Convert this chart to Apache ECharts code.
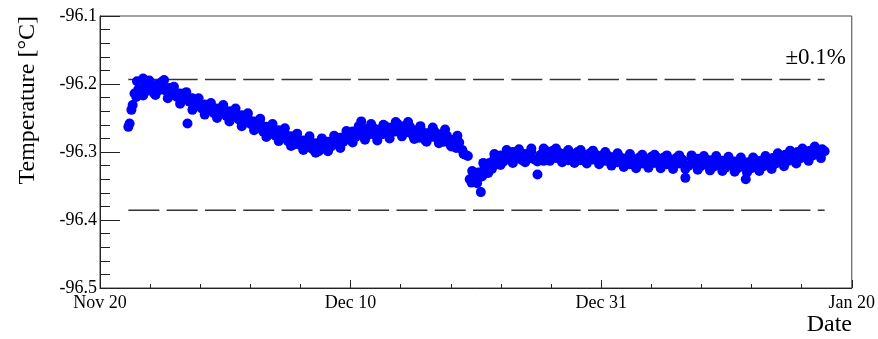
<!DOCTYPE html>
<html>
<head>
<meta charset="utf-8">
<title>Temperature vs Date</title>
<script src="https://cdn.jsdelivr.net/npm/echarts@6.0.0/dist/echarts.min.js"></script>
<style>
  html, body { margin: 0; padding: 0; background: #fff; }
  #chart { width: 878px; height: 339px; }
</style>
</head>
<body>
<div id="chart"></div>
<script>
// days since Nov 20
const days = [
  2.30, 2.40, 2.55, 2.65, 2.80, 2.95, 3.10, 3.30, 3.50, 3.65, 3.85, 4.00, 4.20, 4.40, 4.60, 4.80,
  5.00, 5.20, 5.40, 5.60, 5.80, 6.00, 6.25, 6.50, 6.75, 7.00, 7.10, 7.25, 7.50, 7.75, 8.00, 8.25,
  8.50, 8.75, 9.00, 9.25, 9.50, 9.75, 10.00, 10.25, 10.50, 10.75, 11.00, 11.25, 11.50, 11.75, 12.00, 12.25,
  12.50, 12.75, 13.00, 13.25, 13.50, 13.75, 14.00, 14.25, 14.50, 14.75, 15.00, 15.25, 15.50, 15.75, 16.00, 16.25,
  16.50, 16.75, 17.00, 17.25, 17.50, 17.75, 18.00, 18.25, 18.50, 18.75, 19.00, 19.25, 19.50, 19.75, 20.00, 20.25,
  20.50, 20.75, 21.00, 21.20, 21.40, 21.65, 21.90, 22.15, 22.40, 22.65, 22.90, 23.15, 23.40, 23.65, 23.90, 24.15,
  24.40, 24.65, 24.90, 25.15, 25.40, 25.65, 25.90, 26.15, 26.40, 26.65, 26.90, 27.15, 27.40, 27.65, 27.90, 28.15,
  28.40, 28.65, 28.90, 29.15, 29.40, 29.65, 29.85, 30.00, 30.15, 30.35, 30.50, 30.70, 30.90, 31.00, 31.20, 31.40,
  31.60, 31.80, 32.00, 32.25, 32.50, 32.75, 33.00, 33.25, 33.50, 33.75, 34.00, 34.25, 34.50, 34.75, 35.00, 35.25,
  35.50, 35.75, 36.00, 36.25, 36.50, 36.75, 37.00, 37.25, 37.50, 37.75, 38.00, 38.25, 38.50, 38.75, 39.00, 39.25,
  39.50, 39.75, 40.00, 40.25, 40.50, 40.75, 41.00, 41.25, 41.50, 41.75, 42.00, 42.25, 42.50, 42.75, 43.00, 43.25,
  43.50, 43.75, 44.00, 44.25, 44.50, 44.75, 45.00, 45.25, 45.50, 45.75, 46.00, 46.25, 46.50, 46.75, 47.00, 47.25,
  47.50, 47.75, 48.00, 48.25, 48.50, 48.75, 49.00, 49.25, 49.50, 49.75, 50.00, 50.25, 50.50, 50.75, 51.00, 51.25,
  51.50, 51.75, 52.00, 52.25, 52.40, 52.60, 52.85, 53.10, 53.35, 53.60, 53.85, 54.10, 54.35, 54.60, 54.85, 55.10,
  55.35, 55.60, 55.85, 56.10, 56.35, 56.60, 56.85, 57.10, 57.35, 57.60, 57.85, 58.10, 58.35, 58.60, 58.80
];
const temps = [
  -96.263, -96.258, -96.238, -96.231, -96.214, -96.219, -96.208, -96.212, -96.192, -96.203, -96.210, -96.198, -96.207, -96.214, -96.201, -96.209,
  -96.204, -96.194, -96.211, -96.206, -96.216, -96.210, -96.219, -96.214, -96.222, -96.218, -96.258, -96.226, -96.221, -96.230, -96.228, -96.236,
  -96.230, -96.239, -96.235, -96.243, -96.236, -96.244, -96.238, -96.247, -96.240, -96.249, -96.244, -96.252, -96.246, -96.257, -96.250, -96.259,
  -96.255, -96.265, -96.258, -96.270, -96.263, -96.274, -96.266, -96.276, -96.268, -96.279, -96.273, -96.284, -96.277, -96.289, -96.281, -96.290,
  -96.283, -96.293, -96.285, -96.296, -96.287, -96.299, -96.291, -96.295, -96.285, -96.292, -96.282, -96.288, -96.279, -96.285, -96.274, -96.281,
  -96.270, -96.278, -96.268, -96.255, -96.276, -96.266, -96.274, -96.264, -96.276, -96.267, -96.274, -96.262, -96.272, -96.264, -96.270, -96.259,
  -96.268, -96.262, -96.271, -96.263, -96.276, -96.268, -96.279, -96.270, -96.283, -96.272, -96.278, -96.270, -96.281, -96.274, -96.285, -96.276,
  -96.288, -96.282, -96.294, -96.286, -96.297, -96.304, -96.306, -96.340, -96.345, -96.335, -96.342, -96.330, -96.359, -96.336, -96.322, -96.330,
  -96.316, -96.325, -96.310, -96.318, -96.305, -96.314, -96.302, -96.311, -96.300, -96.309, -96.301, -96.312, -96.303, -96.310, -96.300, -96.311,
  -96.333, -96.304, -96.313, -96.299, -96.308, -96.298, -96.309, -96.301, -96.311, -96.302, -96.312, -96.303, -96.310, -96.300, -96.312, -96.304,
  -96.313, -96.302, -96.311, -96.304, -96.314, -96.305, -96.313, -96.306, -96.316, -96.307, -96.315, -96.308, -96.319, -96.309, -96.318, -96.310,
  -96.321, -96.308, -96.317, -96.310, -96.320, -96.307, -96.316, -96.309, -96.319, -96.308, -96.318, -96.311, -96.320, -96.309, -96.317, -96.311,
  -96.338, -96.320, -96.309, -96.318, -96.310, -96.321, -96.311, -96.319, -96.312, -96.322, -96.311, -96.320, -96.313, -96.323, -96.312, -96.320,
  -96.314, -96.324, -96.313, -96.322, -96.340, -96.315, -96.324, -96.312, -96.322, -96.313, -96.321, -96.311, -96.319, -96.309, -96.317, -96.306,
  -96.315, -96.304, -96.313, -96.302, -96.310, -96.300, -96.309, -96.300, -96.306, -96.298, -96.305, -96.297, -96.303, -96.296, -96.299
];

// extra readings at the upper / lower edge of the band
const spreadDays = [
  3.0, 3.5, 4.0, 4.5, 5.0, 5.5, 6.0, 6.5, 7.0, 7.5, 8.0, 8.5, 9.0, 9.5, 10.0, 10.5,
  11.0, 11.5, 12.0, 12.5, 13.0, 13.5, 14.0, 14.5, 15.0, 15.5, 16.0, 16.5, 17.0, 17.5, 18.0, 18.5,
  19.0, 19.5, 20.0, 20.5, 21.0, 21.5, 22.0, 22.5, 23.0, 23.5, 24.0, 24.5, 25.0, 25.5, 26.0, 26.5,
  27.0, 27.5, 28.0, 28.5, 29.0, 29.5, 30.2, 30.6, 31.1, 31.5, 32.0, 32.5, 33.0, 33.5, 34.0, 34.5,
  35.0, 35.5, 36.0, 36.5, 37.0, 37.5, 38.0, 38.5, 39.0, 39.5, 40.0, 40.5, 41.0, 41.5, 42.0, 42.5,
  43.0, 43.5, 44.0, 44.5, 45.0, 45.5, 46.0, 46.5, 47.0, 47.5, 48.0, 48.5, 49.0, 49.5, 50.0, 50.5,
  51.0, 51.5, 52.0, 52.5, 53.0, 53.5, 54.0, 54.5, 55.0, 55.5, 56.0, 56.5, 57.0, 57.5, 58.0, 58.5
];
const spreadTemps = [
  -96.196, -96.217, -96.195, -96.216, -96.197, -96.221, -96.204, -96.229, -96.212, -96.238, -96.221, -96.245, -96.228, -96.250, -96.231, -96.255,
  -96.236, -96.262, -96.243, -96.268, -96.251, -96.278, -96.259, -96.284, -96.265, -96.291, -96.273, -96.297, -96.277, -96.301, -96.280, -96.299,
  -96.276, -96.294, -96.269, -96.286, -96.262, -96.282, -96.259, -96.283, -96.260, -96.280, -96.256, -96.277, -96.256, -96.281, -96.262, -96.285,
  -96.264, -96.287, -96.267, -96.292, -96.276, -96.303, -96.328, -96.346, -96.316, -96.331, -96.303, -96.319, -96.297, -96.316, -96.296, -96.315,
  -96.295, -96.314, -96.295, -96.313, -96.295, -96.315, -96.297, -96.316, -96.297, -96.317, -96.298, -96.318, -96.300, -96.320, -96.302, -96.322,
  -96.303, -96.324, -96.304, -96.323, -96.304, -96.324, -96.305, -96.325, -96.305, -96.325, -96.305, -96.326, -96.306, -96.327, -96.306, -96.328,
  -96.307, -96.329, -96.308, -96.330, -96.308, -96.328, -96.306, -96.325, -96.302, -96.321, -96.298, -96.317, -96.295, -96.313, -96.292, -96.309
];

const dateLabels = ['Nov 20', 'Dec 10', 'Dec 31', 'Jan 20'];
const axisSpanDays = 61;

// ±0.1% band around the mean temperature
const bandCenter = -96.2895;
const bandPct = 0.1;
const bandUpper = bandCenter * (1 - bandPct / 100);
const bandLower = bandCenter * (1 + bandPct / 100);

const serif = '"Liberation Serif", "DejaVu Serif", serif';
const ink = '#222';

const chart = echarts.init(document.getElementById('chart'));

const points = days.map((d, i) => [d, temps[i]])
  .concat(spreadDays.map((d, i) => [d, spreadTemps[i]]));
const bandStart = days[0];
const bandEnd = days[days.length - 1];

const dashedLine = (value) => ({
  type: 'line',
  data: [[bandStart, value], [bandEnd, value]],
  symbol: 'none',
  silent: true,
  lineStyle: { color: '#333', width: 1.5, type: [31, 7.3] },
  z: 1
});

const option = {
  animation: false,
  grid: {
    left: 100,
    right: 25,
    top: 16,
    bottom: 51,
    show: true,
    borderColor: '#444',
    borderWidth: 1
  },
  xAxis: {
    type: 'value',
    min: 0,
    max: axisSpanDays,
    interval: axisSpanDays / 3,
    axisLine: { lineStyle: { color: ink, width: 1 } },
    axisTick: { inside: true, length: 8, lineStyle: { color: ink } },
    minorTick: { show: true, splitNumber: 5, length: 4, lineStyle: { color: ink } },
    splitLine: { show: false },
    axisLabel: {
      color: '#000',
      fontFamily: serif,
      fontSize: 18,
      margin: 6,
      showMinLabel: true,
      showMaxLabel: true,
      formatter: (v) => dateLabels[Math.round(v / (axisSpanDays / 3))] || ''
    }
  },
  yAxis: {
    type: 'value',
    min: -96.5,
    max: -96.1,
    interval: 0.1,
    axisLine: { show: true, lineStyle: { color: ink, width: 1 } },
    axisTick: { show: true, inside: true, length: 20, lineStyle: { color: ink } },
    minorTick: { show: true, splitNumber: 5, length: 10, lineStyle: { color: ink } },
    splitLine: { show: false },
    axisLabel: {
      color: '#000',
      fontFamily: serif,
      fontSize: 18,
      margin: 3,
      formatter: (v) => v.toFixed(1)
    }
  },
  series: [
    dashedLine(bandUpper),
    dashedLine(bandLower),
    {
      type: 'scatter',
      data: points,
      symbol: 'circle',
      symbolSize: 10,
      itemStyle: { color: '#0000ff', opacity: 1 },
      z: 2
    }
  ],
  graphic: [
    {
      type: 'text',
      x: 28,
      y: 16,
      rotation: Math.PI / 2,
      style: {
        text: 'Temperature [°C]',
        fill: '#000',
        font: '24px ' + serif,
        align: 'right',
        verticalAlign: 'middle'
      }
    },
    {
      type: 'text',
      x: 852,
      y: 337,
      style: {
        text: 'Date',
        fill: '#000',
        font: '24px ' + serif,
        align: 'right',
        verticalAlign: 'bottom'
      }
    },
    {
      type: 'text',
      x: 846,
      y: 69,
      style: {
        text: '±0.1%',
        fill: '#000',
        font: '23px ' + serif,
        align: 'right',
        verticalAlign: 'bottom'
      }
    }
  ]
};

chart.setOption(option);
</script>
</body>
</html>
